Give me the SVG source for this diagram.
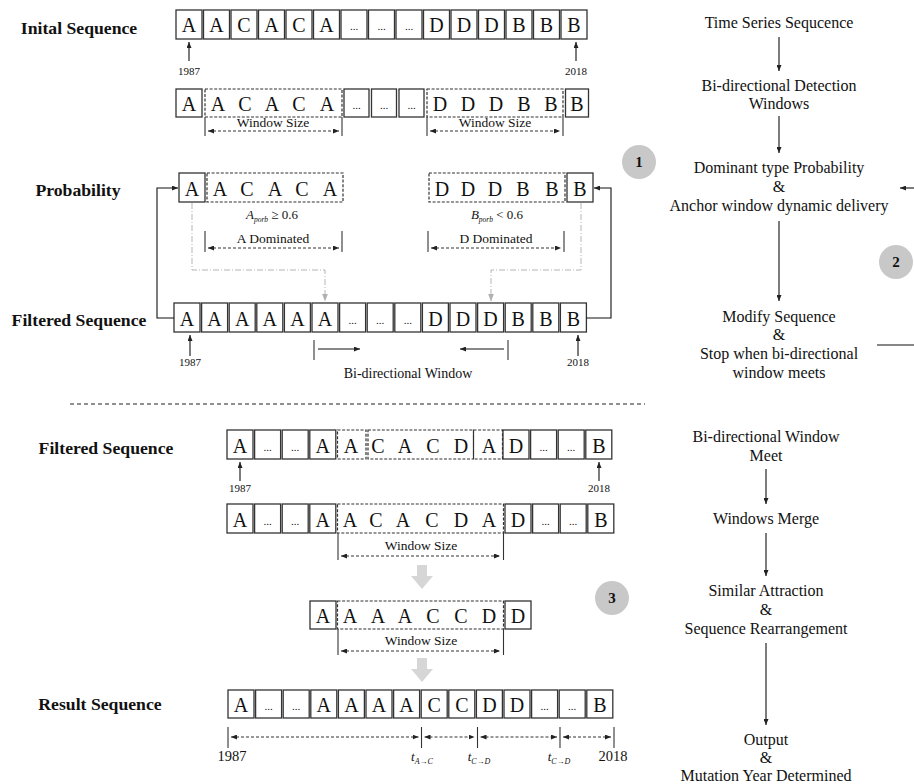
<svg xmlns="http://www.w3.org/2000/svg" width="914" height="784" viewBox="0 0 914 784">
<defs>
<marker id="ah" markerUnits="userSpaceOnUse" markerWidth="8" markerHeight="6" refX="7.5" refY="3" orient="auto-start-reverse"><path d="M0,0 L8,3 L0,6 z" fill="#111"/></marker>
<marker id="ahs" markerUnits="userSpaceOnUse" markerWidth="6" markerHeight="5" refX="6" refY="2.5" orient="auto-start-reverse"><path d="M0,0 L6,2.5 L0,5 z" fill="#222"/></marker>
<marker id="ahg" markerUnits="userSpaceOnUse" markerWidth="8" markerHeight="6" refX="7.5" refY="3" orient="auto"><path d="M0,0 L8,3 L0,6 z" fill="#b0b0b0"/></marker>
</defs>
<style>
text{font-family:"Liberation Serif","Times New Roman",serif;fill:#111}
.c{fill:#fff;stroke:#333;stroke-width:1.3}
.w{fill:none;stroke:#333;stroke-width:1.2;stroke-dasharray:3 1.6}
.L{font-size:20px;text-anchor:middle}
.d{font-size:11px;text-anchor:middle}
.y{font-size:11px;text-anchor:middle}
.lab{font-size:17.7px;font-weight:bold;text-anchor:middle}
.r{font-size:16px;text-anchor:middle}
.s{font-size:13.5px;text-anchor:middle}
.ln{stroke:#111;stroke-width:1.1;fill:none}
.bar{stroke:#333;stroke-width:1.1}
.da{stroke:#333;stroke-width:1;stroke-dasharray:3 2;fill:none}
.g{stroke:#b5b5b5;stroke-width:1;stroke-dasharray:6 2 1 2;fill:none}
.circ{fill:#c8c8c8}
.num{font-size:15px;font-weight:bold;text-anchor:middle}
.blk{fill:#d6d6d6}
.it{font-style:italic}
</style>

<!-- Left labels -->
<g id="labels">
<text class="lab" x="79" y="34">Inital Sequence</text>
<text class="lab" x="78" y="196">Probability</text>
<text class="lab" x="79" y="326">Filtered Sequence</text>
<text class="lab" x="106" y="454">Filtered Sequence</text>
<text class="lab" x="100" y="710">Result Sequence</text>
</g>

<!-- Initial sequence row -->
<g id="initial-seq">
<rect class="c" x="176" y="10" width="26" height="29"/><text class="L" x="189" y="31.5">A</text>
<rect class="c" x="203.5" y="10" width="26" height="29"/><text class="L" x="216.5" y="31.5">A</text>
<rect class="c" x="231" y="10" width="26" height="29"/><text class="L" x="244" y="31.5">C</text>
<rect class="c" x="258.5" y="10" width="26" height="29"/><text class="L" x="271.5" y="31.5">A</text>
<rect class="c" x="286" y="10" width="26" height="29"/><text class="L" x="299" y="31.5">C</text>
<rect class="c" x="313.5" y="10" width="26" height="29"/><text class="L" x="326.5" y="31.5">A</text>
<rect class="c" x="341" y="10" width="26" height="29"/><text class="d" x="354" y="30">...</text>
<rect class="c" x="368.5" y="10" width="26" height="29"/><text class="d" x="381.5" y="30">...</text>
<rect class="c" x="396" y="10" width="26" height="29"/><text class="d" x="409" y="30">...</text>
<rect class="c" x="423.5" y="10" width="26" height="29"/><text class="L" x="436.5" y="31.5">D</text>
<rect class="c" x="451" y="10" width="26" height="29"/><text class="L" x="464" y="31.5">D</text>
<rect class="c" x="478.5" y="10" width="26" height="29"/><text class="L" x="491.5" y="31.5">D</text>
<rect class="c" x="506" y="10" width="26" height="29"/><text class="L" x="519" y="31.5">B</text>
<rect class="c" x="533.5" y="10" width="26" height="29"/><text class="L" x="546.5" y="31.5">B</text>
<rect class="c" x="561" y="10" width="26" height="29"/><text class="L" x="574" y="31.5">B</text>
<line class="ln" x1="189" y1="61" x2="189" y2="42" marker-end="url(#ahs)"/>
<text class="y" x="189" y="75">1987</text>
<line class="ln" x1="576" y1="61" x2="576" y2="42" marker-end="url(#ahs)"/>
<text class="y" x="576" y="75">2018</text>
</g>

<!-- Detection windows row -->
<g id="window-seq">
<rect class="c" x="176" y="89" width="26" height="28"/><text class="L" x="189" y="110.5">A</text>
<rect class="w" x="205" y="89" width="137" height="28"/>
<text class="L" x="218" y="110.5">A</text><text class="L" x="245" y="110.5">C</text><text class="L" x="272" y="110.5">A</text><text class="L" x="299" y="110.5">C</text><text class="L" x="327" y="110.5">A</text>
<rect class="c" x="344" y="89" width="25" height="28"/><text class="d" x="356.5" y="109">...</text>
<rect class="c" x="371.5" y="89" width="25" height="28"/><text class="d" x="384" y="109">...</text>
<rect class="c" x="399" y="89" width="25" height="28"/><text class="d" x="411.5" y="109">...</text>
<rect class="w" x="427" y="89" width="136" height="28"/>
<text class="L" x="440" y="110.5">D</text><text class="L" x="468" y="110.5">D</text><text class="L" x="496" y="110.5">D</text><text class="L" x="524" y="110.5">B</text><text class="L" x="551" y="110.5">B</text>
<rect class="c" x="565.5" y="89" width="23" height="28"/><text class="L" x="577" y="110.5">B</text>
<line class="bar" x1="205" y1="117" x2="205" y2="136"/><line class="bar" x1="342" y1="117" x2="342" y2="136"/>
<line class="da" x1="208" y1="131" x2="339" y2="131" marker-start="url(#ahs)" marker-end="url(#ahs)"/>
<text class="s" x="273" y="127">Window Size</text>
<line class="bar" x1="427" y1="117" x2="427" y2="136"/><line class="bar" x1="563" y1="117" x2="563" y2="136"/>
<line class="da" x1="430" y1="131" x2="560" y2="131" marker-start="url(#ahs)" marker-end="url(#ahs)"/>
<text class="s" x="495" y="127">Window Size</text>
</g>

<!-- Probability row -->
<g id="probability">
<rect class="c" x="179" y="173" width="26" height="29"/><text class="L" x="192" y="195.5">A</text>
<rect class="w" x="207" y="173" width="136" height="29"/>
<text class="L" x="220" y="195.5">A</text><text class="L" x="247" y="195.5">C</text><text class="L" x="275" y="195.5">A</text><text class="L" x="302" y="195.5">C</text><text class="L" x="330" y="195.5">A</text>
<rect class="w" x="429" y="173" width="136" height="29"/>
<text class="L" x="442" y="195.5">D</text><text class="L" x="468" y="195.5">D</text><text class="L" x="495" y="195.5">D</text><text class="L" x="523" y="195.5">B</text><text class="L" x="552" y="195.5">B</text>
<rect class="c" x="567" y="173" width="26" height="29"/><text class="L" x="580" y="195.5">B</text>
<text x="272" y="219" style="font-size:13px;text-anchor:middle"><tspan class="it">A</tspan><tspan class="it" style="font-size:7.5px" dy="3">porb</tspan><tspan dy="-3"> ≥ 0.6</tspan></text>
<text x="497" y="219" style="font-size:13px;text-anchor:middle"><tspan class="it">B</tspan><tspan class="it" style="font-size:7.5px" dy="3">porb</tspan><tspan dy="-3"> &lt; 0.6</tspan></text>
<line class="bar" x1="205" y1="231" x2="205" y2="252"/><line class="bar" x1="342" y1="231" x2="342" y2="252"/>
<line class="da" x1="208" y1="248" x2="339" y2="248" marker-start="url(#ahs)" marker-end="url(#ahs)"/>
<text class="s" x="273" y="243">A Dominated</text>
<line class="bar" x1="428" y1="231" x2="428" y2="252"/><line class="bar" x1="564" y1="231" x2="564" y2="252"/>
<line class="da" x1="431" y1="248" x2="561" y2="248" marker-start="url(#ahs)" marker-end="url(#ahs)"/>
<text class="s" x="496" y="243">D Dominated</text>
</g>

<!-- Filtered sequence row -->
<g id="filtered-seq">
<rect class="c" x="174" y="303" width="26" height="29"/><text class="L" x="187" y="325.5">A</text>
<rect class="c" x="201.6" y="303" width="26" height="29"/><text class="L" x="214.6" y="325.5">A</text>
<rect class="c" x="229.2" y="303" width="26" height="29"/><text class="L" x="242.2" y="325.5">A</text>
<rect class="c" x="256.8" y="303" width="26" height="29"/><text class="L" x="269.8" y="325.5">A</text>
<rect class="c" x="284.4" y="303" width="26" height="29"/><text class="L" x="297.4" y="325.5">A</text>
<rect class="c" x="312" y="303" width="26" height="29"/><text class="L" x="325" y="325.5">A</text>
<rect class="c" x="339.6" y="303" width="26" height="29"/><text class="d" x="352.6" y="324">...</text>
<rect class="c" x="367.2" y="303" width="26" height="29"/><text class="d" x="380.2" y="324">...</text>
<rect class="c" x="394.8" y="303" width="26" height="29"/><text class="d" x="407.8" y="324">...</text>
<rect class="c" x="422.4" y="303" width="26" height="29"/><text class="L" x="435.4" y="325.5">D</text>
<rect class="c" x="450" y="303" width="26" height="29"/><text class="L" x="463" y="325.5">D</text>
<rect class="c" x="477.6" y="303" width="26" height="29"/><text class="L" x="490.6" y="325.5">D</text>
<rect class="c" x="505.2" y="303" width="26" height="29"/><text class="L" x="518.2" y="325.5">B</text>
<rect class="c" x="532.8" y="303" width="26" height="29"/><text class="L" x="545.8" y="325.5">B</text>
<rect class="c" x="560.4" y="303" width="26" height="29"/><text class="L" x="573.4" y="325.5">B</text>
<line class="ln" x1="190" y1="356" x2="190" y2="335" marker-end="url(#ahs)"/>
<text class="y" x="190" y="366">1987</text>
<line class="ln" x1="578" y1="356" x2="578" y2="335" marker-end="url(#ahs)"/>
<text class="y" x="578" y="366">2018</text>
<line class="bar" x1="314" y1="340" x2="314" y2="360"/>
<line class="ln" x1="318" y1="349" x2="360" y2="349" marker-end="url(#ahs)"/>
<line class="bar" x1="508" y1="340" x2="508" y2="360"/>
<line class="ln" x1="504" y1="349" x2="460" y2="349" marker-end="url(#ahs)"/>
<text x="408" y="378" style="font-size:14px;text-anchor:middle">Bi-directional Window</text>
</g>

<!-- Separator -->
<line x1="70" y1="404" x2="645" y2="404" stroke="#222" stroke-width="1.2" stroke-dasharray="4 3"/>

<!-- Bottom filtered row -->
<g id="bottom-filtered">
<rect class="c" x="227" y="430" width="26" height="29"/><text class="L" x="240" y="452.5">A</text>
<rect class="c" x="254.6" y="430" width="26" height="29"/><text class="d" x="267.6" y="451">...</text>
<rect class="c" x="282.2" y="430" width="26" height="29"/><text class="d" x="295.2" y="451">...</text>
<rect class="c" x="309.8" y="430" width="26" height="29"/><text class="L" x="322.8" y="452.5">A</text>
<rect class="w" x="337.5" y="430" width="28.5" height="29"/>
<rect class="w" x="368" y="430" width="105.5" height="29"/>
<rect class="w" x="473.5" y="430" width="29" height="29"/>
<text class="L" x="351" y="452.5">A</text><text class="L" x="378" y="452.5">C</text><text class="L" x="405" y="452.5">A</text><text class="L" x="433" y="452.5">C</text><text class="L" x="461" y="452.5">D</text><text class="L" x="489" y="452.5">A</text>
<rect class="c" x="503" y="430" width="26" height="29"/><text class="L" x="516" y="452.5">D</text>
<rect class="c" x="530.6" y="430" width="26" height="29"/><text class="d" x="543.6" y="451">...</text>
<rect class="c" x="558.2" y="430" width="26" height="29"/><text class="d" x="571.2" y="451">...</text>
<rect class="c" x="585.8" y="430" width="26" height="29"/><text class="L" x="598.8" y="452.5">B</text>
<line class="ln" x1="240" y1="481" x2="240" y2="462" marker-end="url(#ahs)"/>
<text class="y" x="240" y="492">1987</text>
<line class="ln" x1="599" y1="481" x2="599" y2="462" marker-end="url(#ahs)"/>
<text class="y" x="599" y="492">2018</text>
</g>

<g id="merge-row">
<rect class="c" x="227" y="504" width="26" height="29"/><text class="L" x="240" y="526.5">A</text>
<rect class="c" x="254.6" y="504" width="26" height="29"/><text class="d" x="267.6" y="525">...</text>
<rect class="c" x="282.2" y="504" width="26" height="29"/><text class="d" x="295.2" y="525">...</text>
<rect class="c" x="309.8" y="504" width="26" height="29"/><text class="L" x="322.8" y="526.5">A</text>
<rect class="w" x="337.5" y="504" width="166" height="29"/>
<text class="L" x="350" y="526.5">A</text><text class="L" x="376" y="526.5">C</text><text class="L" x="403" y="526.5">A</text><text class="L" x="432" y="526.5">C</text><text class="L" x="461" y="526.5">D</text><text class="L" x="489" y="526.5">A</text>
<rect class="c" x="505" y="504" width="26" height="29"/><text class="L" x="518" y="526.5">D</text>
<rect class="c" x="532.6" y="504" width="26" height="29"/><text class="d" x="545.6" y="525">...</text>
<rect class="c" x="560.2" y="504" width="26" height="29"/><text class="d" x="573.2" y="525">...</text>
<rect class="c" x="587.8" y="504" width="26" height="29"/><text class="L" x="600.8" y="526.5">B</text>
<line class="bar" x1="338" y1="533" x2="338" y2="560"/><line class="bar" x1="503.5" y1="533" x2="503.5" y2="560"/>
<line class="da" x1="341" y1="556" x2="500" y2="556" marker-start="url(#ahs)" marker-end="url(#ahs)"/>
<text class="s" x="421" y="550">Window Size</text>
</g>

<polygon class="blk" points="417,565 427,565 427,576 433,576 422,589 411,576 417,576"/>

<g id="rearrange-row">
<rect class="c" x="310" y="601" width="26" height="28"/><text class="L" x="323" y="622.5">A</text>
<rect class="w" x="337.5" y="601" width="166" height="28"/>
<text class="L" x="350" y="622.5">A</text><text class="L" x="378" y="622.5">A</text><text class="L" x="405" y="622.5">A</text><text class="L" x="433" y="622.5">C</text><text class="L" x="461" y="622.5">C</text><text class="L" x="489" y="622.5">D</text>
<rect class="c" x="505" y="601" width="26" height="28"/><text class="L" x="518" y="622.5">D</text>
<line class="bar" x1="338" y1="629" x2="338" y2="655"/><line class="bar" x1="503.5" y1="629" x2="503.5" y2="655"/>
<line class="da" x1="341" y1="651" x2="500" y2="651" marker-start="url(#ahs)" marker-end="url(#ahs)"/>
<text class="s" x="421" y="645">Window Size</text>
</g>

<polygon class="blk" points="417,658 427,658 427,669 433,669 422,682 411,669 417,669"/>

<g id="result-row">
<rect class="c" x="228" y="690" width="26" height="28"/><text class="L" x="241" y="711.5">A</text>
<rect class="c" x="255.6" y="690" width="26" height="28"/><text class="d" x="268.6" y="710">...</text>
<rect class="c" x="283.2" y="690" width="26" height="28"/><text class="d" x="296.2" y="710">...</text>
<rect class="c" x="310.8" y="690" width="26" height="28"/><text class="L" x="323.8" y="711.5">A</text>
<rect class="c" x="338.4" y="690" width="26" height="28"/><text class="L" x="351.4" y="711.5">A</text>
<rect class="c" x="366" y="690" width="26" height="28"/><text class="L" x="379" y="711.5">A</text>
<rect class="c" x="393.6" y="690" width="26" height="28"/><text class="L" x="406.6" y="711.5">A</text>
<rect class="c" x="421.2" y="690" width="26" height="28"/><text class="L" x="434.2" y="711.5">C</text>
<rect class="c" x="448.8" y="690" width="26" height="28"/><text class="L" x="461.8" y="711.5">C</text>
<rect class="c" x="476.4" y="690" width="26" height="28"/><text class="L" x="489.4" y="711.5">D</text>
<rect class="c" x="504" y="690" width="26" height="28"/><text class="L" x="517" y="711.5">D</text>
<rect class="c" x="531.6" y="690" width="26" height="28"/><text class="d" x="544.6" y="710">...</text>
<rect class="c" x="559.2" y="690" width="26" height="28"/><text class="d" x="572.2" y="710">...</text>
<rect class="c" x="586.8" y="690" width="26" height="28"/><text class="L" x="599.8" y="711.5">B</text>
<line class="bar" x1="228" y1="727" x2="228" y2="748"/>
<line class="bar" x1="421.5" y1="727" x2="421.5" y2="748"/>
<line class="bar" x1="477.5" y1="727" x2="477.5" y2="748"/>
<line class="bar" x1="560" y1="727" x2="560" y2="748"/>
<line class="bar" x1="614" y1="727" x2="614" y2="748"/>
<line class="da" x1="231" y1="737" x2="418.5" y2="737" marker-start="url(#ahs)" marker-end="url(#ahs)"/>
<line class="da" x1="424.5" y1="737" x2="474.5" y2="737" marker-start="url(#ahs)" marker-end="url(#ahs)"/>
<line class="da" x1="480.5" y1="737" x2="557" y2="737" marker-start="url(#ahs)" marker-end="url(#ahs)"/>
<line class="da" x1="563" y1="737" x2="611" y2="737" marker-start="url(#ahs)" marker-end="url(#ahs)"/>
<text x="232" y="761" style="font-size:14.5px;text-anchor:middle">1987</text>
<text x="613" y="761" style="font-size:14.5px;text-anchor:middle">2018</text>
<text x="422" y="761" style="font-size:13px;text-anchor:middle"><tspan class="it">t</tspan><tspan class="it" style="font-size:8px" dy="3">A→C</tspan></text>
<text x="479" y="761" style="font-size:13px;text-anchor:middle"><tspan class="it">t</tspan><tspan class="it" style="font-size:8px" dy="3">C→D</tspan></text>
<text x="559" y="761" style="font-size:13px;text-anchor:middle"><tspan class="it">t</tspan><tspan class="it" style="font-size:8px" dy="3">C→D</tspan></text>
</g>

<!-- Right flow -->
<g id="step-time-series"><text class="r" x="779" y="28">Time Series Sequcence</text></g>
<g id="step-detection"><text class="r" x="779" y="91">Bi-directional Detection</text><text class="r" x="779" y="109">Windows</text></g>
<g id="step-dominant"><text class="r" x="779" y="173">Dominant type Probability</text><text class="r" x="779" y="192">&amp;</text><text class="r" x="779" y="211">Anchor window dynamic delivery</text></g>
<g id="step-modify"><text class="r" x="779" y="322">Modify Sequence</text><text class="r" x="779" y="340">&amp;</text><text class="r" x="779" y="359">Stop when bi-directional</text><text class="r" x="779" y="378">window meets</text></g>
<g id="step-meet"><text class="r" x="766" y="442">Bi-directional Window</text><text class="r" x="766" y="461">Meet</text></g>
<g id="step-merge"><text class="r" x="766" y="524">Windows Merge</text></g>
<g id="step-similar"><text class="r" x="766" y="596">Similar Attraction</text><text class="r" x="766" y="615">&amp;</text><text class="r" x="766" y="634">Sequence Rearrangement</text></g>
<g id="step-output"><text class="r" x="766" y="745">Output</text><text class="r" x="766" y="763">&amp;</text><text class="r" x="766" y="781">Mutation Year Determined</text></g>

<g id="badge-1"><circle class="circ" cx="639" cy="162" r="17"/><text class="num" x="639" y="167">1</text></g>
<g id="badge-2"><circle class="circ" cx="896" cy="262" r="17"/><text class="num" x="896" y="267">2</text></g>
<g id="badge-3"><circle class="circ" cx="612" cy="598" r="17"/><text class="num" x="612" y="603">3</text></g>

<!-- Connectors -->
<g id="connectors">
<line class="ln" x1="779" y1="37" x2="779" y2="71" marker-end="url(#ahs)"/>
<line class="ln" x1="779" y1="116" x2="779" y2="153" marker-end="url(#ahs)"/>
<line class="ln" x1="779" y1="221" x2="779" y2="301" marker-end="url(#ahs)"/>
<line class="ln" x1="914" y1="188" x2="900" y2="188" marker-end="url(#ahs)"/>
<line class="ln" x1="877" y1="345" x2="914" y2="345"/>
<line class="ln" x1="766" y1="469" x2="766" y2="504" marker-end="url(#ahs)"/>
<line class="ln" x1="766" y1="533" x2="766" y2="576" marker-end="url(#ahs)"/>
<line class="ln" x1="766" y1="643" x2="766" y2="725" marker-end="url(#ahs)"/>
<polyline class="ln" points="174,318 157,318 157,188 178,188" marker-end="url(#ahs)"/>
<polyline class="ln" points="586.5,318 611,318 611,188 594,188" marker-end="url(#ahs)"/>
<polyline class="g" points="192,203 192,270 325,270 325,301" marker-end="url(#ahg)"/>
<polyline class="g" points="581,203 581,270 491,270 491,301" marker-end="url(#ahg)"/>
</g>
</svg>
